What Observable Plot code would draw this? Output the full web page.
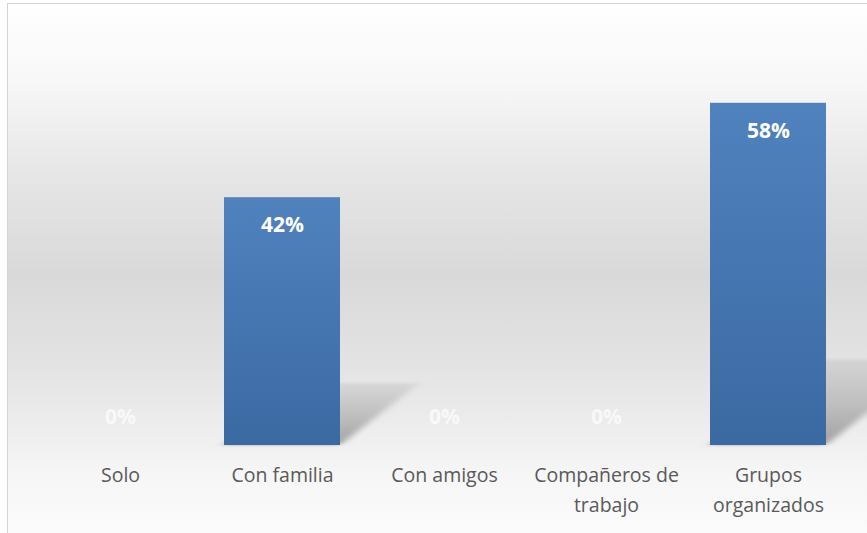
<!DOCTYPE html>
<html><head><meta charset="utf-8">
<script src="https://cdn.jsdelivr.net/npm/d3@7"></script>
<script src="https://cdn.jsdelivr.net/npm/@observablehq/plot@0.6"></script>
<style>
body{margin:0;background:#fff;width:867px;height:533px;overflow:hidden;position:relative;font-family:"Open Sans",sans-serif;}
#bg{position:absolute;left:7px;top:3px;width:880px;height:560px;border:1px solid #d4d4d4;
background:linear-gradient(to bottom,#ffffff 0px,#f7f7f7 80px,#e6e6e6 170px,#d9d9d9 270px,#e3e3e3 360px,#eeeeee 430px,#f6f6f6 470px,#fbfbfb 530px);}
#chart{position:absolute;left:0;top:0;}
</style></head>
<body><div id="bg"></div><div id="chart"></div>
<script>
const categories = ["Solo","Con familia","Con amigos","Compañeros de\ntrabajo","Grupos\norganizados"];
const values = [0, 42, 0, 0, 58];
const labels = ["0%","42%","0%","0%","58%"];
const data = categories.map((c,i)=>({cat:c, v:values[i], label:labels[i]}));

const shadow = (index, scales, values, dims, ctx, next) => {
  const g = next(index, scales, values, dims, ctx);
  const y0 = scales.y(0);
  g.setAttribute("transform", `translate(0,${y0}) skewX(-52) scale(1,0.25) translate(0,${-y0})`);
  g.setAttribute("filter", "url(#blur)");
  return g;
};

const chart = Plot.plot({
  width: 867, height: 533,
  marginLeft: 37, marginRight: 16, marginTop: 32, marginBottom: 88,
  style: {background: "transparent", fontFamily: "Open Sans, sans-serif", overflow: "visible"},
  x: {domain: categories, paddingInner: 0.286, paddingOuter: 0.143, label: null},
  y: {domain: [0, 70], axis: null},
  marks: [
    Plot.barY(data, {x: "cat", y: "v", fill: "url(#shadowGrad)", render: shadow}),
    Plot.barY(data, {x: "cat", y: "v", fill: "url(#barGrad)"}),
    Plot.text(data.filter(d => d.v > 0), {x: "cat", y: "v", text: "label", dy: 28, fill: "#ffffff",
      fontSize: 21, fontWeight: "bold"}),
    Plot.text(data.filter(d => d.v === 0), {x: "cat", y: "v", text: "label", dy: -28, fill: "#ffffff",
      fillOpacity: 0.7, fontSize: 21, fontWeight: "bold"}),
    Plot.axisX({tickSize: 0, tickPadding: 16, fontSize: 19.5, color: "#595959", lineHeight: 1.5})
  ]
});
const defs = d3.select(chart).insert("defs", ":first-child");
const lg = defs.append("linearGradient").attr("id","barGrad").attr("x1",0).attr("y1",0).attr("x2",0).attr("y2",1);
lg.append("stop").attr("offset","0%").attr("stop-color","#5082be");
lg.append("stop").attr("offset","100%").attr("stop-color","#3b69a2");
const sg = defs.append("linearGradient").attr("id","shadowGrad").attr("x1",0).attr("y1",0).attr("x2",0).attr("y2",1);
sg.append("stop").attr("offset","0%").attr("stop-color","#999").attr("stop-opacity",0.2);
sg.append("stop").attr("offset","100%").attr("stop-color","#888").attr("stop-opacity",0.75);
defs.append("filter").attr("id","blur").attr("x","-50%").attr("y","-50%").attr("width","200%").attr("height","200%")
  .append("feGaussianBlur").attr("stdDeviation", 5);
document.getElementById("chart").appendChild(chart);
</script></body></html>
